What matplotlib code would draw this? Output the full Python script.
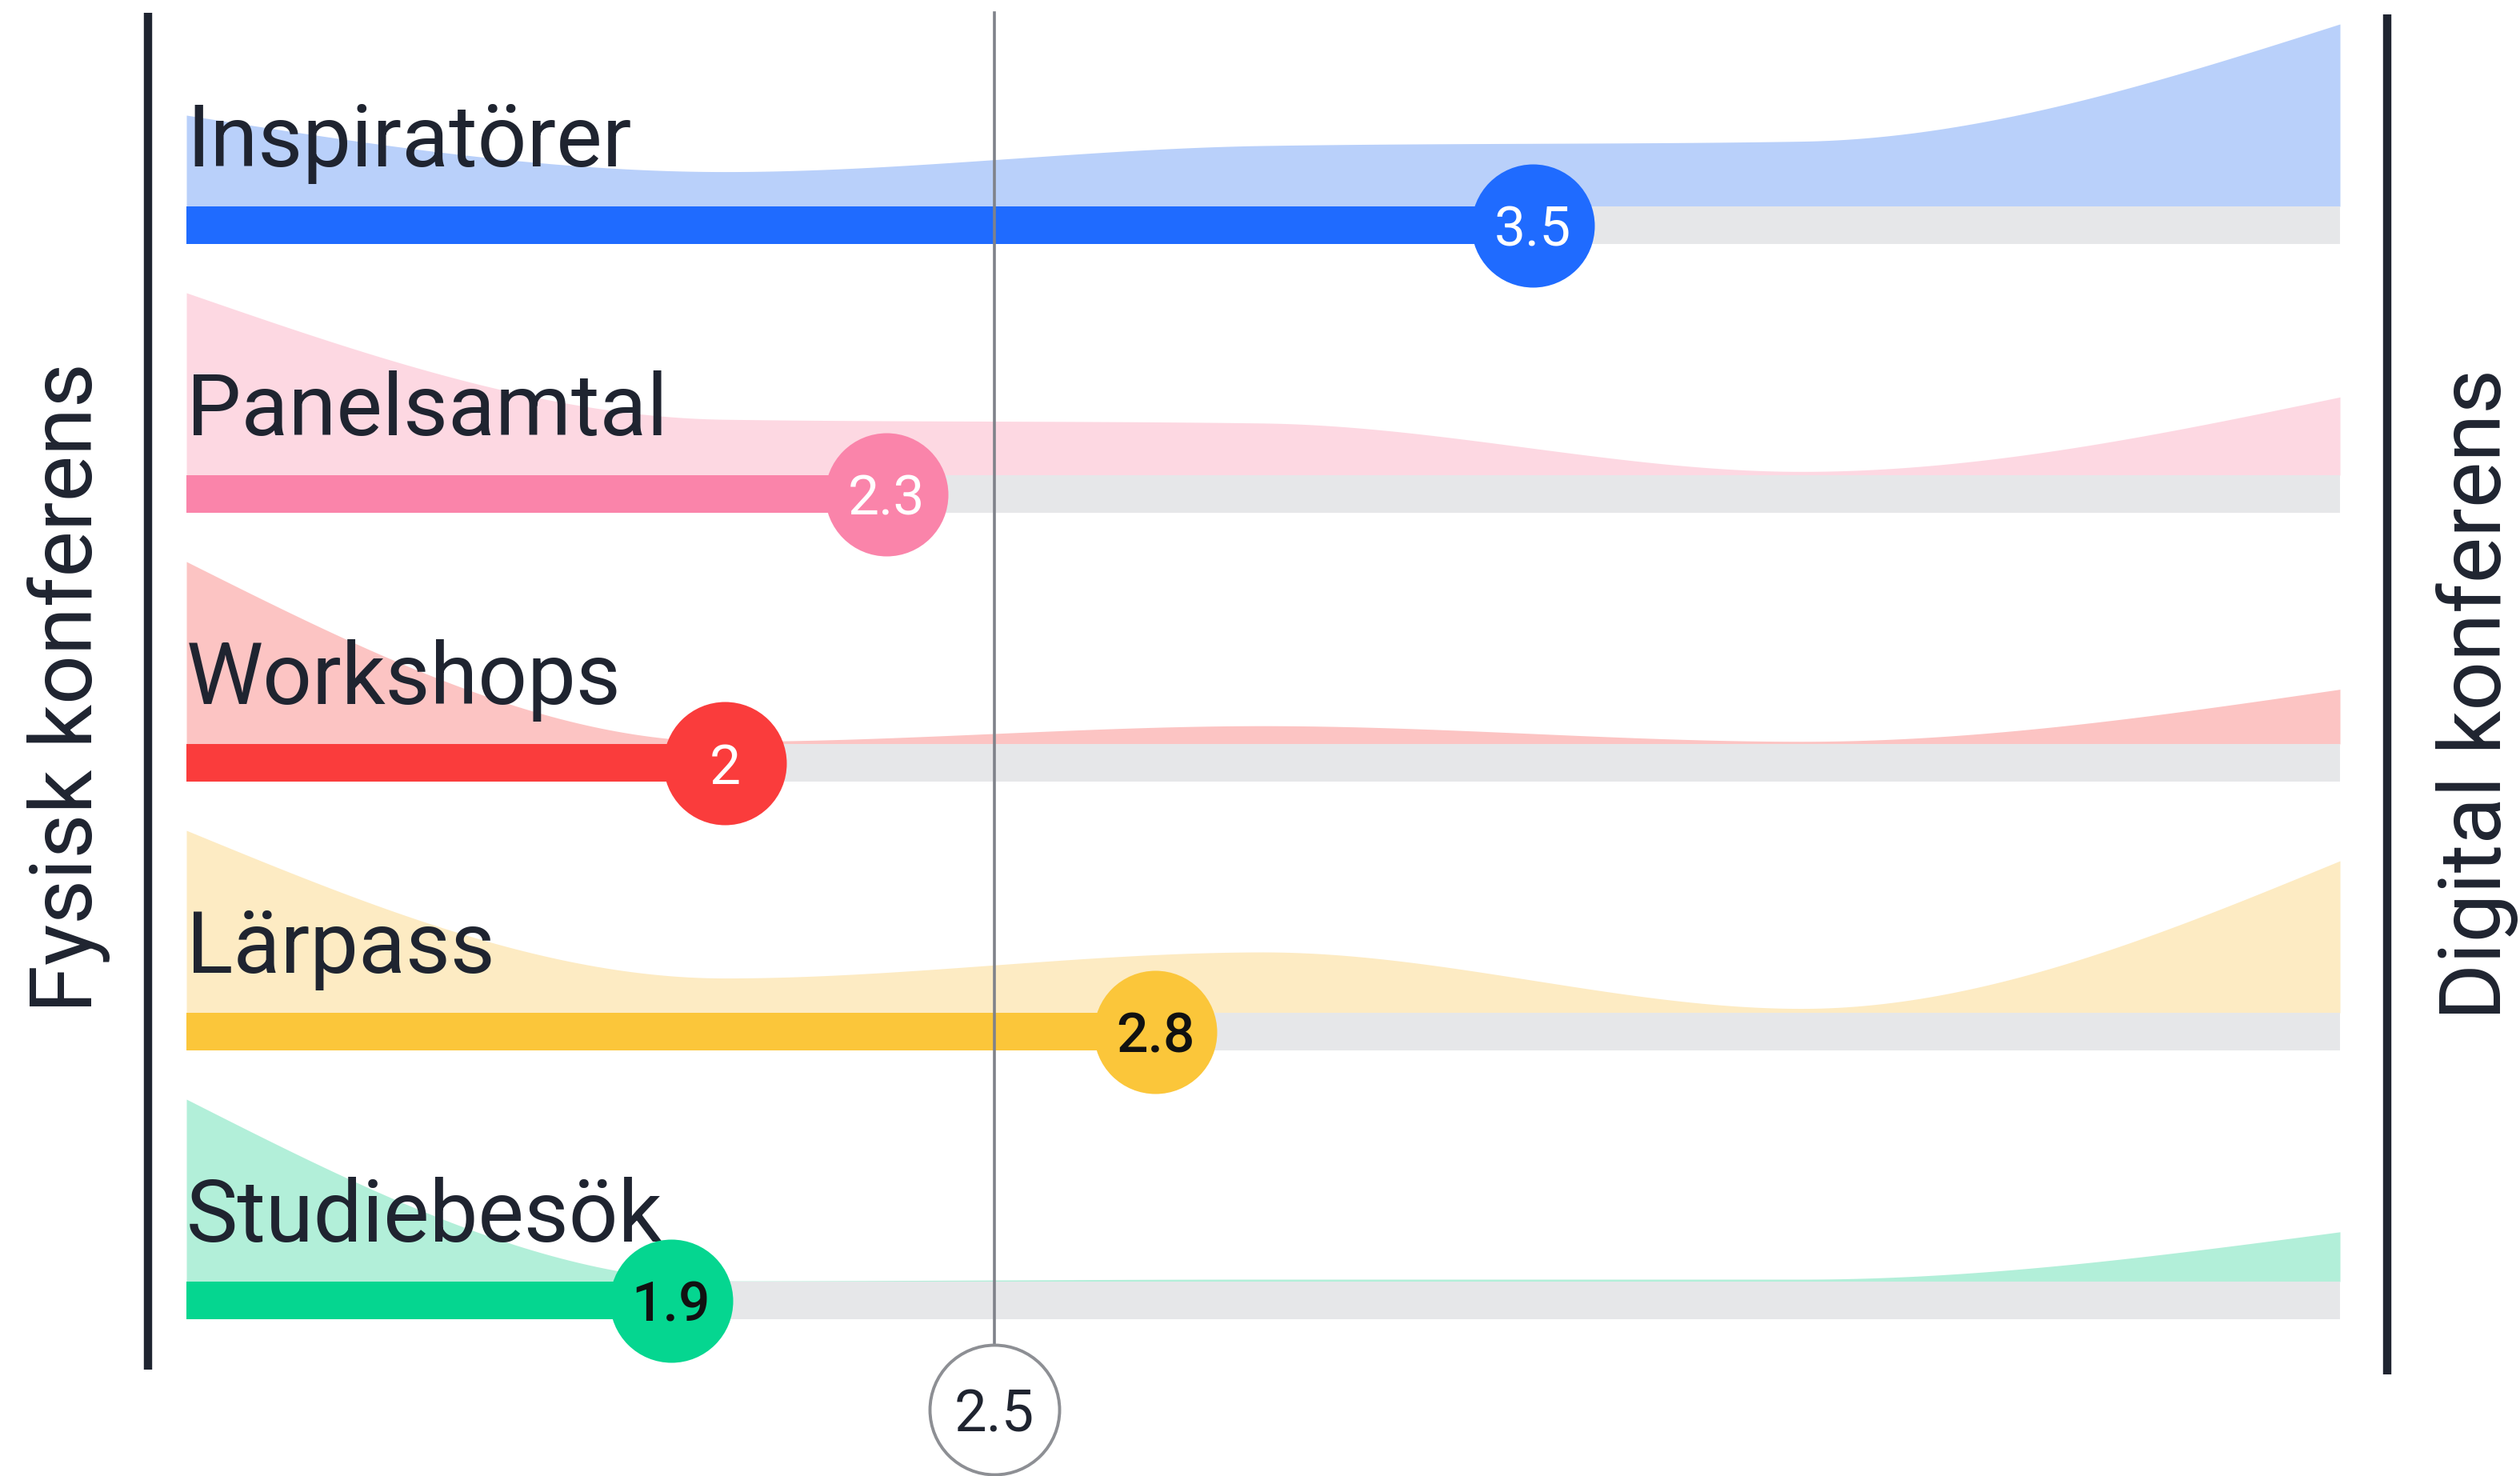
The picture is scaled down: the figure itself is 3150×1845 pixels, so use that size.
import numpy as np
import matplotlib.pyplot as plt

# survey answers, share of respondents per scale step (1 = fysisk, 5 = digital)
categories = ["Inspiratörer", "Panelsamtal", "Workshops", "Lärpass", "Studiebesök"]
scale = [1, 2, 3, 4, 5]
shares = [
    [21, 8, 14, 15, 42],
    [49, 15, 14, 1, 21],
    [70, 1, 7, 1, 21],
    [42, 8, 14, 1, 35],
    [77, 0.3, 1, 1, 21],
]
means = [3.5, 2.3, 2.0, 2.8, 1.9]
mean_labels = ["3.5", "2.3", "2", "2.8", "1.9"]
midpoint = 2.5

bar_colors = ["#1f6bff", "#fa84aa", "#fa3c3c", "#fbc63a", "#05d690"]
area_colors = ["#b9d0fa", "#fdd8e2", "#fcc4c3", "#fdebc3", "#b2efd9"]
label_colors = ["white", "white", "white", "#111111", "#111111"]
track_color = "#e6e7e9"
ink = "#1f2430"

plt.rcParams['font.family'] = ['Roboto', 'DejaVu Sans']


def monotone_x(xs, ys, n=60):
    # same curve as d3.curveMonotoneX
    xs = np.asarray(xs, float)
    ys = np.asarray(ys, float)
    h = np.diff(xs)
    s = np.diff(ys) / h
    t = np.zeros(len(xs))
    sgn = lambda v: -1.0 if v < 0 else 1.0
    for i in range(1, len(xs) - 1):
        p = (s[i - 1] * h[i] + s[i] * h[i - 1]) / (h[i - 1] + h[i])
        t[i] = (sgn(s[i - 1]) + sgn(s[i])) * min(abs(s[i - 1]), abs(s[i]), 0.5 * abs(p))
    t[0] = (3 * s[0] - t[1]) / 2
    t[-1] = (3 * s[-1] - t[-2]) / 2
    out_x, out_y = [], []
    for i in range(len(xs) - 1):
        u = np.linspace(0, 1, n)
        h00 = 2 * u**3 - 3 * u**2 + 1
        h10 = u**3 - 2 * u**2 + u
        h01 = -2 * u**3 + 3 * u**2
        h11 = u**3 - u**2
        out_x.append(xs[i] + u * h[i])
        out_y.append(h00 * ys[i] + h10 * h[i] * t[i] + h01 * ys[i + 1] + h11 * h[i] * t[i + 1])
    return np.concatenate(out_x), np.clip(np.concatenate(out_y), 0, None)


W, H = 3150, 1845
fig = plt.figure(figsize=(W / 100, H / 100), dpi=100)
ax = fig.add_axes([0, 0, 1, 1])

# x: 1 -> 233 px, 5 -> 2925 px ; y: one row = 336 px, first baseline at 258 px
px_per_x = (2925 - 233) / 4
px_per_row = 336
ax.set_xlim(1 - 233 / px_per_x, 1 + (W - 233) / px_per_x)
ax.set_ylim((H - 258) / px_per_row, -258 / px_per_row)
ax.axis('off')

bar_h = 47 / px_per_row
area_max = 228 / px_per_row
dot_size = (154 * 0.72) ** 2

for i, cat in enumerate(categories):
    vals = np.array(shares[i], float)
    cx, cy = monotone_x(scale, vals / vals.max() * area_max)
    ax.fill_between(cx, i, i - cy, color=area_colors[i], lw=0, zorder=1)
    ax.barh(i, 4, left=1, height=bar_h, align='edge', color=track_color, zorder=2)
    ax.barh(i, means[i] - 1, left=1, height=bar_h, align='edge', color=bar_colors[i], zorder=3)
    ax.text(1, i - 50 / px_per_row, cat, fontsize=78, color=ink, va='baseline', ha='left', zorder=4)
    ax.scatter(means[i], i + bar_h / 2, s=dot_size, color=bar_colors[i], lw=0, zorder=5)
    ax.text(means[i], i + bar_h / 2, mean_labels[i], fontsize=50, color=label_colors[i],
            fontweight='medium' if label_colors[i] != "white" else 'normal',
            ha='center', va='center_baseline', zorder=6)

# midpoint reference line with its badge
ref_y = (1762 - 258) / px_per_row
ax.plot([midpoint, midpoint], [(16 - 258) / px_per_row, ref_y], color="#7f828a", lw=2.6, zorder=3.5)
ax.scatter(midpoint, ref_y, s=(162 * 0.72) ** 2, color="white", edgecolor="#8d8f94", lw=2.8, zorder=5)
ax.text(midpoint, ref_y, "2.5", fontsize=52, color=ink, ha='center', va='center_baseline', zorder=6)

# end lines for the two poles
left_x = 1 + (185 - 233) / px_per_x
right_x = 1 + (2984 - 233) / px_per_x
ax.plot([left_x, left_x], [(16 - 258) / px_per_row, (1712 - 258) / px_per_row], color=ink, lw=7.5,
        solid_capstyle='butt')
ax.plot([right_x, right_x], [(18 - 258) / px_per_row, (1718 - 258) / px_per_row], color=ink, lw=7.5,
        solid_capstyle='butt')

fig.text(86 / W, 1 - 860 / H, "Fysisk konferens", rotation=90, fontsize=78,
         color=ink, ha='center', va='center')
fig.text(3097 / W, 1 - 868 / H, "Digital konferens", rotation=90, fontsize=78,
         color=ink, ha='center', va='center')

fig.savefig("out.png", dpi=100, facecolor="white")
